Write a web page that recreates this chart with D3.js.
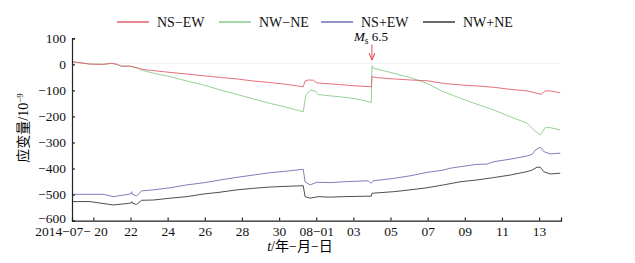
<!DOCTYPE html>
<html>
<head>
<meta charset="utf-8">
<script src="https://cdn.jsdelivr.net/npm/d3@7"></script>
<style>
  body { margin: 0; background: #fff; }
  text { font-family: "Liberation Serif", "Noto Sans CJK SC", serif; }
</style>
</head>
<body>
<div id="chart"></div>
<script>
// series: [days after 2014-07-20 00:00, strain / 1e-9]
const seriesNames = ["NS−EW", "NW−NE", "NS+EW", "NW+NE"];
const seriesColors = ["#e2606c", "#8acb8a", "#7070b0", "#3a3a3a"];

const nsew = [[-1.15,10],[-0.18,1],[0.53,0],[0.99,4],[1.26,0],[1.52,-7],[1.97,-7],[2.33,-13],[2.6,-19],
  [3.23,-24],[4.13,-31],[5.03,-37],[5.92,-44],[6.82,-50],[7.72,-56],[8.62,-64],[9.52,-70],[10.41,-77],
  [11.3,-86],[11.4,-64],[11.58,-60],[11.85,-61],[12.03,-71],[12.75,-75],[13.46,-79],[14.19,-83],[14.97,-86],
  [15.0,-47],[15.26,-51],[16.16,-56],[17.06,-60],[17.96,-63],[18.85,-73],[19.75,-79],[20.65,-83],
  [21.55,-88],[22.45,-96],[23.35,-102],[24.12,-115],[24.33,-102],[24.6,-102],[25.14,-109]];

const nwne = [[-1.15,10],[-0.18,1],[0.53,0],[0.99,4],[1.26,0],[1.52,-7],[1.97,-7],[2.33,-13],[2.69,-24],
  [3.23,-34],[4.13,-47],[5.03,-64],[5.92,-79],[6.82,-98],[7.72,-115],[8.62,-133],[9.52,-150],[10.41,-165],
  [11.3,-182],[11.36,-156],[11.44,-118],[11.67,-100],[11.94,-102],[12.1,-116],[12.75,-121],[13.46,-126],
  [14.19,-133],[14.97,-146],[15.0,-5],[15.08,-15],[16.16,-34],[17.06,-51],[17.96,-73],[18.85,-105],
  [19.75,-130],[20.65,-153],[21.55,-175],[22.45,-201],[23.35,-226],[23.71,-252],[24.07,-271],[24.33,-243],
  [24.6,-243],[25.14,-252]];

const nsPlusEw = [[-1.15,-499],[0.53,-499],[1.07,-508],[1.88,-499],[2.02,-497],[2.06,-489],[2.1,-499],
  [2.33,-505],[2.6,-486],[3.23,-482],[4.13,-474],[5.03,-463],[5.92,-455],[6.82,-444],[7.72,-434],
  [8.62,-425],[9.52,-416],[10.41,-410],[11.3,-403],[11.4,-451],[11.67,-463],[12.03,-453],[12.75,-454],
  [13.46,-451],[14.81,-447],[14.94,-457],[15.08,-447],[16.16,-438],[17.06,-428],[17.96,-415],[18.85,-406],
  [19.21,-399],[19.75,-393],[20.65,-384],[21.19,-383],[21.55,-374],[22.45,-364],[23.35,-352],[23.62,-346],
  [23.8,-329],[24.07,-318],[24.25,-335],[24.6,-344],[25.14,-341]];

const nwPlusNe = [[-1.15,-527],[-0.18,-527],[1.07,-540],[1.88,-534],[2.02,-533],[2.08,-527],[2.12,-534],
  [2.33,-538],[2.6,-522],[3.23,-521],[4.13,-514],[5.03,-508],[5.92,-498],[6.82,-491],[7.72,-482],
  [8.62,-476],[9.52,-471],[11.3,-466],[11.4,-508],[11.67,-514],[12.1,-508],[12.75,-510],[13.46,-508],
  [14.97,-506],[15.0,-495],[16.16,-489],[17.06,-482],[17.96,-474],[18.85,-463],[19.75,-451],[20.65,-444],
  [21.55,-435],[22.45,-425],[23.35,-412],[23.62,-406],[23.89,-395],[24.07,-395],[24.25,-412],[24.6,-421],
  [25.14,-418]];

const xTickDays = [0,2,4,6,8,10,12,14,16,18,20,22,24];
const yTicks = [100,0,-100,-200,-300,-400,-500,-600];
const quakeDay = 15.0;   // Ms 6.5
const xDomainDays = [-1.15, 25.18];
const yDomain = [-600, 100];

const width = 635, height = 263;
const t0 = new Date(2014, 6, 20);
const toDate = d => new Date(t0.getTime() + d * 86400000);

const svg = d3.select("#chart").append("svg")
  .attr("width", width).attr("height", height);

const x = d3.scaleTime().domain(xDomainDays.map(toDate)).range([72, 561]);
const y = d3.scaleLinear().domain(yDomain).range([220.6, 38.3]);

// faint zero line
svg.append("line")
  .attr("x1", x.range()[0]).attr("x2", x.range()[1])
  .attr("y1", y(0) - 1).attr("y2", y(0) - 1)
  .attr("stroke", "#f2f2f2").attr("stroke-width", 1);

let line = d3.line().x(d => x(toDate(d[0]))).y(d => y(d[1]));

// green first so red sits on top where they overlap
[nwne, nsPlusEw, nwPlusNe, nsew].forEach(function(s) {
  let i = s === nsew ? 0 : s === nwne ? 1 : s === nsPlusEw ? 2 : 3;
  svg.append("path").datum(s)
    .attr("fill", "none")
    .attr("stroke", seriesColors[i])
    .attr("stroke-width", 0.9)
    .attr("d", line);
});

// axes, ticks pointing inward
let xAxis = d3.axisBottom(x)
  .tickValues(xTickDays.map(toDate))
  .tickSizeInner(-3).tickSizeOuter(-3).tickPadding(6)
  .tickFormat(function(d) {
    if (d.getDate() == 1) return "08−01";
    return d3.timeFormat("%d")(d);
  });
let gx = svg.append("g").attr("transform", "translate(0," + y(yDomain[0]) + ")").call(xAxis);

let yAxis = d3.axisLeft(y).tickValues(yTicks)
  .tickSizeInner(-3).tickSizeOuter(-3).tickPadding(6)
  .tickFormat(d3.format("d"));
let gy = svg.append("g").attr("transform", "translate(" + x.range()[0] + ",0)").call(yAxis);

[gx, gy].forEach(function(g) {
  g.selectAll("path, line").attr("stroke", "#222").attr("stroke-width", 1.2);
  g.selectAll("text").attr("fill", "#111").style("font-size", "13.5px")
    .style("font-family", "'Liberation Serif', serif");
});

// lowest y label sits a bit higher, clear of the date labels
gy.selectAll(".tick text").filter(d => d == yDomain[0]).attr("dy", "0.12em");

// first x label carries the year-month prefix
gx.select(".tick text")
  .attr("text-anchor", "end").attr("dx", 14)
  .text("2014−07− 20");

// axis titles
svg.append("text")
  .attr("x", 300).attr("y", 251)
  .attr("text-anchor", "middle")
  .style("font-size", "14px")
  .call(t => {
    t.append("tspan").style("font-style", "italic").text("t");
    t.append("tspan").text("/年−月−日");
  });

svg.append("text")
  .attr("transform", "translate(28,128) rotate(-90)")
  .attr("text-anchor", "middle")
  .style("font-size", "14px")
  .call(t => {
    t.append("tspan").text("应变量/10");
    t.append("tspan").attr("dy", -5).style("font-size", "9px").text("−9");
  });

// earthquake marker
let qx = x(toDate(quakeDay));
svg.append("defs").append("marker")
  .attr("id", "arrow").attr("viewBox", "0 0 10 10")
  .attr("refX", 10).attr("refY", 5)
  .attr("markerWidth", 7).attr("markerHeight", 7)
  .attr("orient", "auto")
  .append("path").attr("d", "M0,1 L10,5 L0,9")
  .attr("fill", "none").attr("stroke", "#e0505a").attr("stroke-width", 1.5);

svg.append("line")
  .attr("x1", qx).attr("x2", qx)
  .attr("y1", y(76)).attr("y2", y(16))
  .attr("stroke", "#e0505a").attr("stroke-width", 1)
  .attr("marker-end", "url(#arrow)");

svg.append("text")
  .attr("x", qx - 18).attr("y", 41)
  .style("font-size", "13px")
  .call(t => {
    t.append("tspan").style("font-style", "italic").text("M");
    t.append("tspan").attr("dy", 3).style("font-size", "9.5px").text("s");
    t.append("tspan").attr("dy", -3).text(" 6.5");
  });

// legend
let legend = svg.append("g").attr("transform", "translate(117,22)");
seriesNames.forEach(function(name, i) {
  let g = legend.append("g").attr("transform", "translate(" + (i * 102) + ",0)");
  g.append("line").attr("x1", 0).attr("x2", 32).attr("y1", 0).attr("y2", 0)
    .attr("stroke", seriesColors[i]).attr("stroke-width", 1.5);
  g.append("text").attr("x", 40).attr("y", 4.5)
    .style("font-size", "14px").attr("fill", "#111").text(name);
});
</script>
</body>
</html>
